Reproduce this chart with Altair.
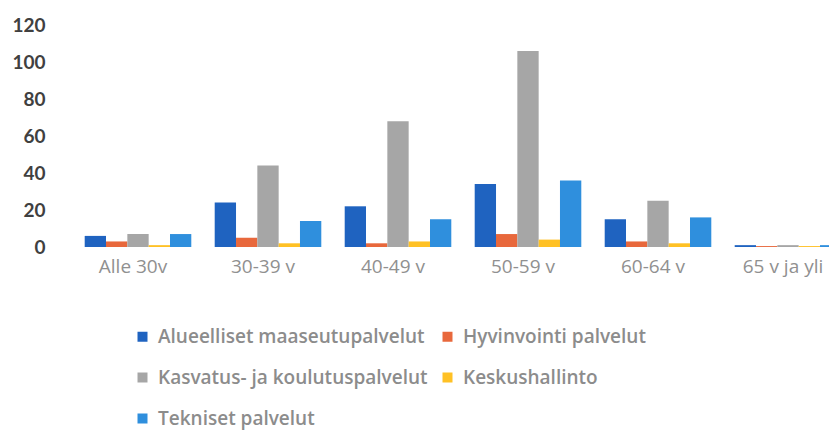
import altair as alt
import pandas as pd

categories = ["Alle 30v", "30-39 v", "40-49 v", "50-59 v", "60-64 v", "65 v ja yli"]
series = ["Alueelliset maaseutupalvelut", "Hyvinvointi palvelut",
          "Kasvatus- ja koulutuspalvelut", "Keskushallinto", "Tekniset palvelut"]
alueelliset = [6, 24, 22, 34, 15, 1]
hyvinvointi = [3, 5, 2, 7, 3, 0.5]
kasvatus = [7, 44, 68, 106, 25, 1]
keskushallinto = [1, 2, 3, 4, 2, 0.5]
tekniset = [7, 14, 15, 36, 16, 1]
colors = ["#1f63c0", "#e8683c", "#a6a6a6", "#ffc125", "#2f8fdd"]
y_ticks = [0, 20, 40, 60, 80, 100, 120]

values = [alueelliset, hyvinvointi, kasvatus, keskushallinto, tekniset]
rows = []
for s, vals in zip(series, values):
    for c, v in zip(categories, vals):
        rows.append({"Ikä": c, "Sarja": s, "Arvo": v})
df = pd.DataFrame(rows)

chart = alt.Chart(df).mark_bar(clip=True).encode(
    x=alt.X("Ikä:N", sort=categories,
            scale=alt.Scale(paddingInner=0.18, paddingOuter=0.09, range=[0, 780]),
            axis=alt.Axis(title=None, labelAngle=0, labelFont="Open Sans", labelFontSize=19,
                          labelColor="#909090", labelPadding=10, labelOffset=-5,
                          ticks=False, domain=False)),
    xOffset=alt.XOffset("Sarja:N", sort=series, scale=alt.Scale(paddingInner=0, paddingOuter=0)),
    y=alt.Y("Arvo:Q", scale=alt.Scale(domain=[0, 120], nice=False),
            axis=alt.Axis(title=None, values=y_ticks, labelFont="Lato", labelFontSize=19,
                          labelFontWeight="bold", labelColor="#404040", labelPadding=28,
                          ticks=False, domain=False, grid=False)),
    color=alt.Color("Sarja:N", sort=series,
                    scale=alt.Scale(domain=series, range=colors),
                    legend=alt.Legend(title=None, orient="none", legendX=60, legendY=302,
                                      columns=2, direction="horizontal",
                                      symbolType="square", symbolSize=100,
                                      symbolStrokeWidth=0, labelFont="Open Sans",
                                      labelFontSize=19, labelFontWeight=600,
                                      labelColor="#8c8c8c", labelOffset=6, rowPadding=21,
                                      columnPadding=10, labelLimit=400)),
).properties(
    width=756, height=222,
    autosize=alt.AutoSizeParams(type="none"),
    padding={"left": 65, "top": 17, "right": 0, "bottom": 184},
).configure_view(stroke=None)

chart.save("out.html", embed_options={"renderer": "svg", "actions": False})
